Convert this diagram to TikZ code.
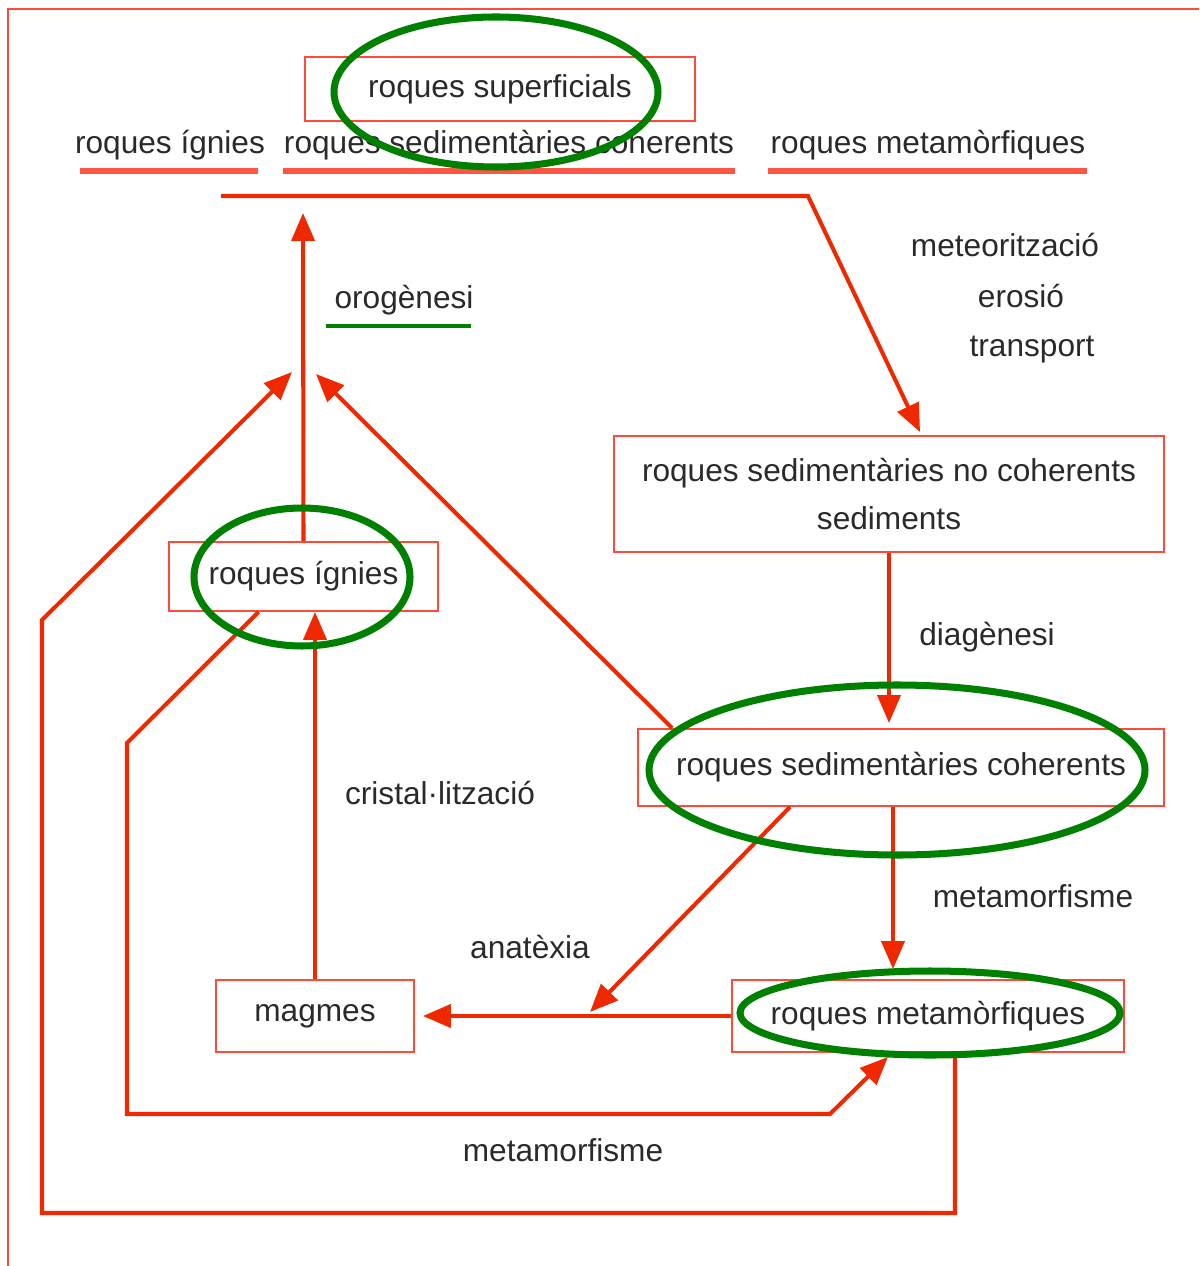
\documentclass[tikz,border=0pt]{standalone}
\usepackage{fontspec}
\setmainfont{Liberation Sans}
\usetikzlibrary{arrows.meta,calc}
\definecolor{lred}{HTML}{FF4A3A}
\definecolor{cred}{HTML}{F02800}
\definecolor{ulred}{HTML}{FF5545}
\definecolor{ggreen}{HTML}{008000}
\definecolor{txt}{HTML}{2A2A2A}
\tikzset{
  box/.style={draw=lred,line width=1.1pt,inner sep=0pt,text=txt,font=\fontsize{18}{27}\selectfont,align=center},
  lbl/.style={inner sep=0pt,text=txt,font=\fontsize{18}{22}\selectfont},
  conn/.style={draw=cred,line width=2.3pt,line join=miter},
  arr/.style={conn,-{Triangle[length=0.56cm,width=0.46cm]}},
  uline/.style={draw=ulred,line width=3.4pt},
  gline/.style={draw=ggreen,line width=2.8pt},
  ring/.style={draw=ggreen,line width=4pt},
  frame/.style={draw=lred,line width=1.1pt}
}
\begin{document}
\begin{tikzpicture}[x=0.02cm,y=-0.02cm]
\useasboundingbox (0,0) rectangle (1199,1266);
% outer frame
\draw[frame] (8,1266) -- (8,9) -- (1199,9);

% boxes
\node[box,minimum width=7.8cm,minimum height=1.28cm] (sup) at (500,89) {roques superficials};
\node[box,minimum width=5.38cm,minimum height=1.38cm] (ign) at (303.5,576.5) {roques ígnies};
\node[box,minimum width=11cm,minimum height=2.32cm] (nocoh) at (889,494) {roques sedimentàries no coherents\\sediments};
\node[box,minimum width=10.52cm,minimum height=1.54cm] (coh) at (901,767.5) {roques sedimentàries coherents};
\node[box,minimum width=3.96cm,minimum height=1.44cm] (mag) at (315,1016) {magmes};
\node[box,minimum width=7.84cm,minimum height=1.44cm] (met) at (928,1016) {roques metamòrfiques};

% top row labels with underlines
\node[lbl] (tign) at (170,145) {roques ígnies};
\node[lbl] (tsed) at (509,145) {roques sedimentàries coherents};
\node[lbl] (tmet) at (928,145) {roques metamòrfiques};
\draw[uline] (80,171) -- (258,171);
\draw[uline] (283,171) -- (735,171);
\draw[uline] (768,171) -- (1087,171);

% process labels
\node[lbl] (oro) at (404,300) {orogènesi};
\draw[gline] (326,326) -- (471,326);
\node[lbl] (meteo) at (1005,245) {meteorització};
\node[lbl] (eros) at (1021,296) {erosió};
\node[lbl] (transp) at (1032,350) {transport};
\node[lbl] (diag) at (987,637) {diagènesi};
\node[lbl] (crist) at (440,793) {cristal·lització};
\node[lbl] (anat) at (530,947) {anatèxia};
\node[lbl] (meta1) at (1033,896) {metamorfisme};
\node[lbl] (meta2) at (563,1150) {metamorfisme};

% free-end coordinates
\coordinate (h1) at (221,196);
\coordinate (h2) at (808,196);
\coordinate (hEnd) at (920,432);
\coordinate (oroTop) at (303,213);
\coordinate (oroL) at (292,372);
\coordinate (oroR) at (316,374);
\coordinate (anEnd) at (590,1012);

% connectors
\draw[arr] (h1) -- (h2) -- (hEnd);
\draw[arr] (ign.north) -- (oroTop);
\draw[arr] ($(met.south)+(27,0)$) -- (955,1213) -- (42,1213) -- (42,620) -- (oroL);
\draw[arr] ($(coh.north west)+(35,0)$) -- (oroR);
\draw[arr] ($(ign.south)+(-45,0)$) -- (127,743) -- (127,1114) -- (830,1114) -- ($(met.south)+(-40,4)$);
\draw[arr] (mag.north) -- (mag.north |- ign.south);
\draw[arr,shorten >=0.16cm] (met.west) -- (mag.east);
\draw[arr] ($(coh.south)+(-111,0)$) -- (anEnd);
\draw[arr,shorten >=0.2cm] ($(coh.south)+(-8,0)$) -- ($(met.north)+(-35,0)$);
\draw[arr,shorten >=0.1cm] (nocoh.south) -- (nocoh.south |- coh.north);

% green highlight ellipses
\draw[ring] (496,92) ellipse [x radius=162,y radius=75];
\draw[ring] (302,577) ellipse [x radius=108,y radius=69];
\draw[ring] (897,770) ellipse [x radius=248,y radius=85];
\draw[ring] (930,1013) ellipse [x radius=190,y radius=42];
\end{tikzpicture}
\end{document}
